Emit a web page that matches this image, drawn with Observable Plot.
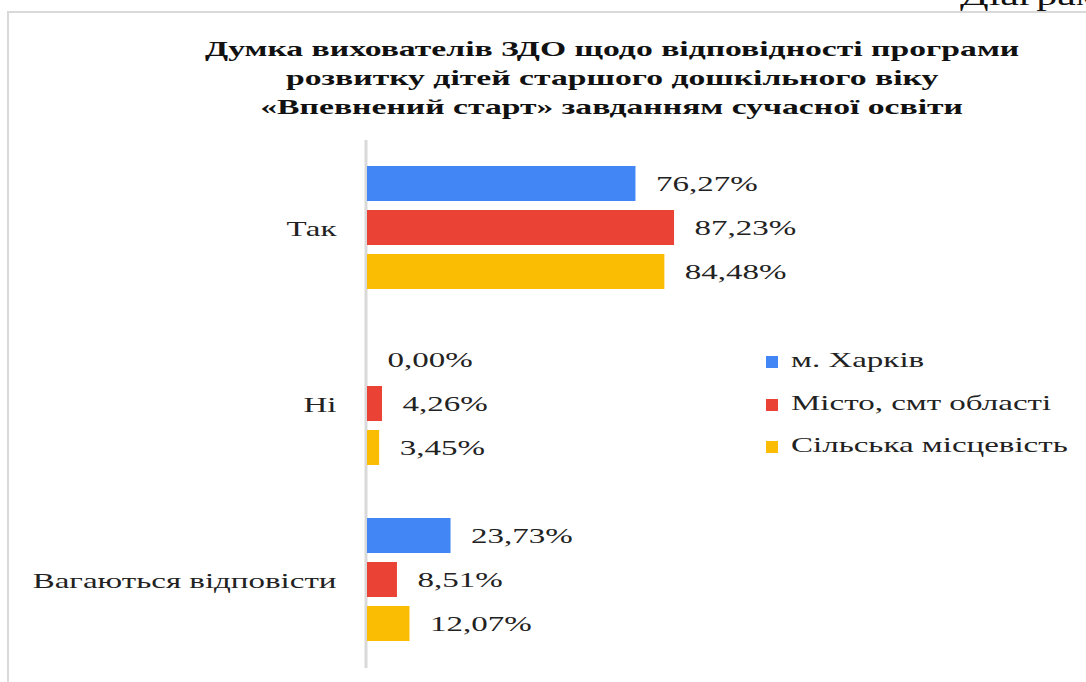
<!DOCTYPE html>
<html>
<head>
<meta charset="utf-8">
<script src="https://cdn.jsdelivr.net/npm/d3@7"></script>
<script src="https://cdn.jsdelivr.net/npm/@observablehq/plot@0.6"></script>
<style>
  html, body { margin: 0; padding: 0; background: #fff; }
  #root { position: relative; width: 1086px; height: 682px; overflow: hidden; font-family: "Liberation Serif", "Times New Roman", "DejaVu Serif", serif; color: #222; }
  #frame { position: absolute; left: 7px; top: 11px; right: -4px; bottom: -4px; border-top: 2px solid #d9d9d9; border-left: 2px solid #d9d9d9; }
  #corner { position: absolute; left: 960px; top: -18px; font-size: 28px; line-height: 28px; white-space: nowrap; color: #111; transform: scaleX(1.5); transform-origin: left center; }
  #title { height: 130px; position: relative; }
  .tl { position: absolute; left: 112px; width: 1000px; text-align: center; font-weight: bold; font-size: 22px; line-height: 29px; color: #111; }
  .tl span { display: inline-block; transform: scaleX(1.53); transform-origin: center; white-space: nowrap; }
  #legend { position: absolute; left: 766px; top: 342px; }
  .li { position: absolute; left: 0; white-space: nowrap; font-size: 22px; }
  .sw { position: absolute; left: 0; width: 12px; height: 12px; }
  .lt { position: absolute; left: 25px; display: inline-block; transform: scaleX(1.5); transform-origin: left center; }
  #chart svg { display: block; }
</style>
</head>
<body>
<div id="root">
  <div id="frame"></div>
  <div id="corner">Діаграма</div>
  <div id="title"></div>
  <div id="chart"></div>
  <div id="legend"></div>
</div>
<script>
const titleLines = [
  "Думка вихователів ЗДО щодо відповідності програми",
  "розвитку дітей старшого дошкільного віку",
  "«Впевнений старт» завданням сучасної освіти"
];
const categories = ["Так", "Ні", "Вагаються відповісти"];
const series = ["м. Харків", "Місто, смт області", "Сільська місцевість"];
const kharkiv = [76.27, 0.00, 23.73];
const cityRegion = [87.23, 4.26, 8.51];
const rural = [84.48, 3.45, 12.07];
const colors = ["#4285F4", "#EA4335", "#FBBC04"];
const SX = 1.5;
const FONT = "'Liberation Serif', 'Times New Roman', 'DejaVu Serif', serif";

const seriesValues = [kharkiv, cityRegion, rural];
const data = [];
categories.forEach((c, i) => {
  series.forEach((s, j) => {
    data.push({category: c, series: s, value: seriesValues[j][i]});
  });
});
const fmt = v => v.toFixed(2).replace(".", ",") + "%";

// title
const titleEl = document.getElementById("title");
titleLines.forEach((t, i) => {
  const d = document.createElement("div");
  d.className = "tl";
  d.style.top = (34 + i * 29) + "px";
  const sp = document.createElement("span");
  sp.textContent = t;
  d.appendChild(sp);
  titleEl.appendChild(d);
});

const chart = Plot.plot({
  width: 1086,
  height: 552,
  marginLeft: 367,
  marginRight: 367,
  marginTop: 10,
  marginBottom: 14,
  style: {fontFamily: FONT, fontSize: "22px", color: "#222", background: "transparent"},
  x: {domain: [0, 100], axis: null},
  y: {domain: series, paddingInner: 0.2, paddingOuter: 0.6, axis: null},
  fy: {domain: categories, padding: 0, label: null},
  color: {domain: series, range: colors},
  marks: [
    Plot.axisFy({anchor: "left", tickSize: 0, tickPadding: 31, label: null, fontSize: 22, fontFamily: FONT}),
    Plot.ruleX([0], {stroke: "#d9d9d9", strokeWidth: 3, dx: -1.5}),
    Plot.barX(data, {fy: "category", y: "series", x: "value", fill: "series"}),
    Plot.text(data, {fy: "category", y: "series", x: "value", text: d => fmt(d.value), textAnchor: "start", dx: 20, fill: "#222", fontSize: 22, fontFamily: FONT})
  ]
});
document.getElementById("chart").appendChild(chart);

// stretch svg text horizontally to match the reference proportions
chart.querySelectorAll("text").forEach(t => {
  const len = t.getComputedTextLength();
  if (len > 0) {
    t.setAttribute("textLength", len * SX);
    t.setAttribute("lengthAdjust", "spacingAndGlyphs");
  }
});

// legend
const legend = document.getElementById("legend");
series.forEach((s, i) => {
  const row = document.createElement("div");
  row.className = "li";
  row.style.top = (i * 42.5) + "px";
  const sw = document.createElement("div");
  sw.className = "sw";
  sw.style.background = colors[i];
  sw.style.top = "14px";
  const lt = document.createElement("span");
  lt.className = "lt";
  lt.textContent = s;
  lt.style.top = "5px";
  row.appendChild(sw);
  row.appendChild(lt);
  legend.appendChild(row);
});
</script>
</body>
</html>
